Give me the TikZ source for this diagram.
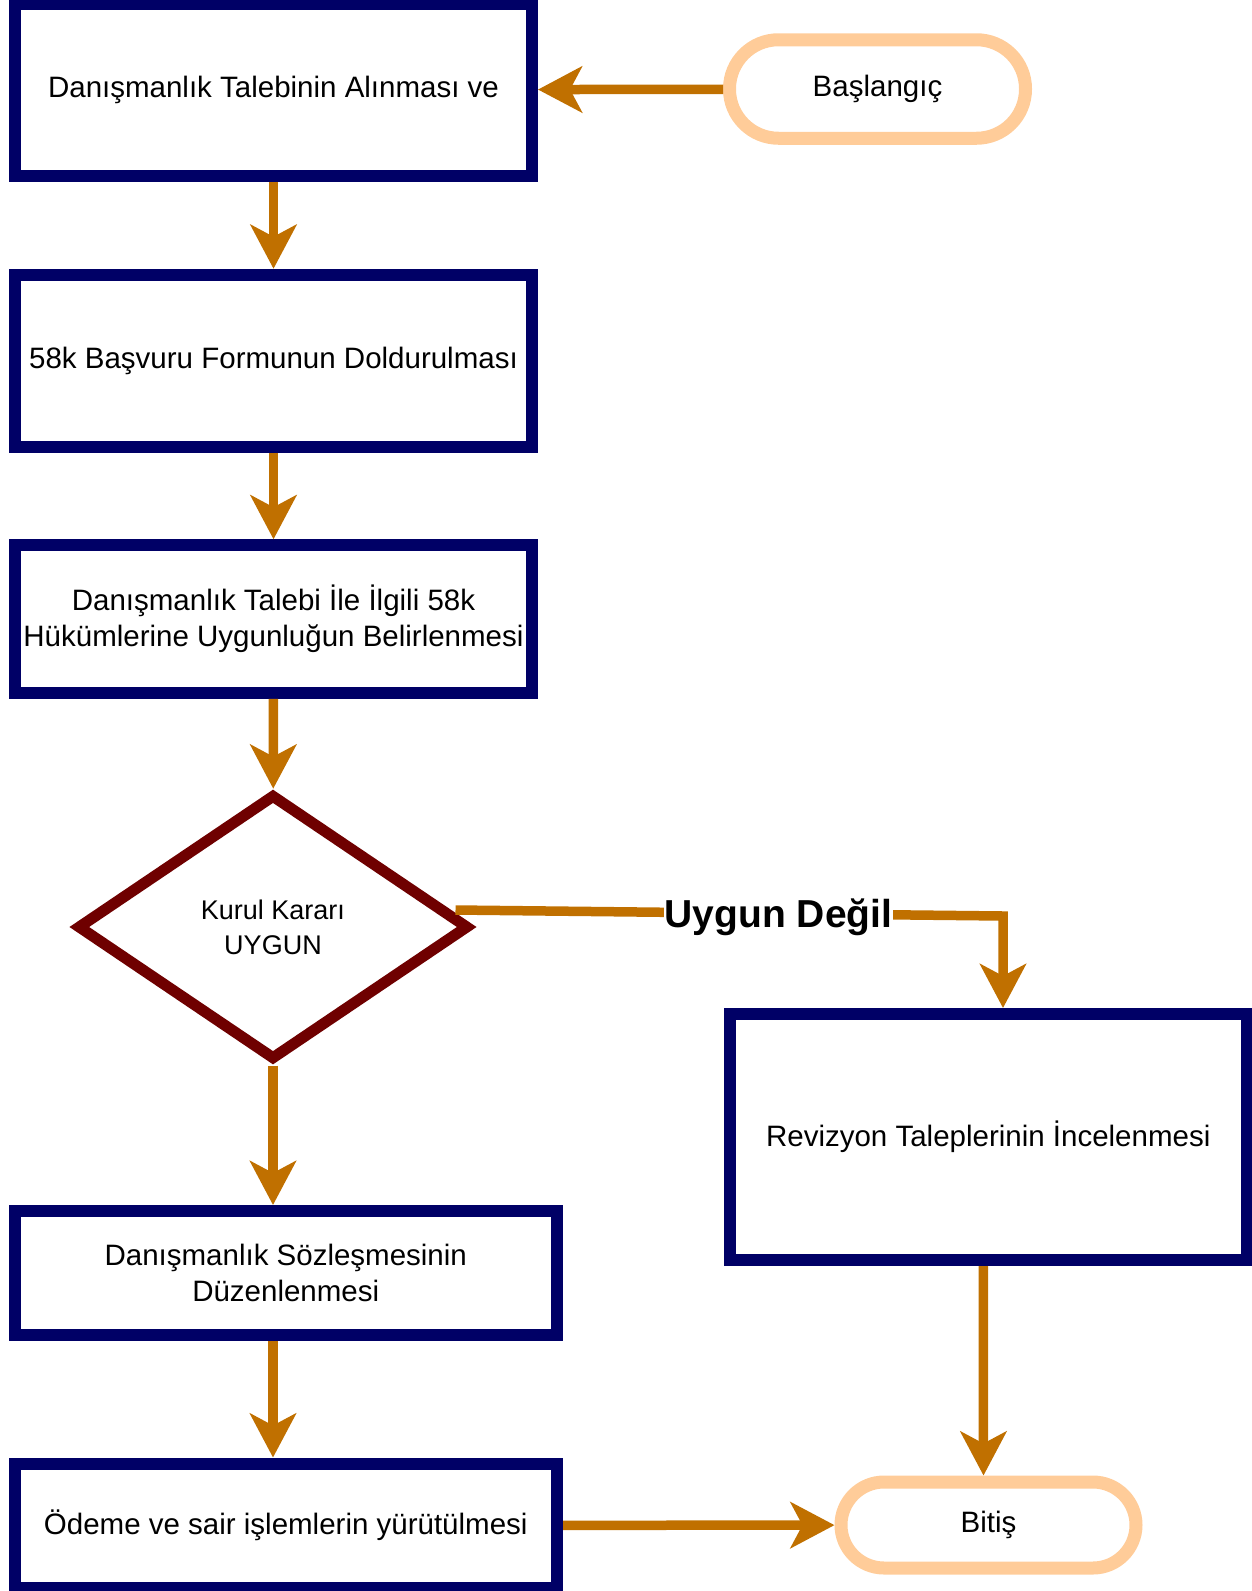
\documentclass[tikz,border=0pt]{standalone}
\usepackage{fontspec}
\setmainfont{Liberation Sans}
\usetikzlibrary{shapes.geometric,arrows.meta}
\definecolor{kutucol}{HTML}{000066}
\definecolor{okcol}{HTML}{C07000}
\definecolor{kararcol}{HTML}{6F0000}
\definecolor{uccol}{HTML}{FFCC99}

\begin{document}
\begin{tikzpicture}[x=1pt,y=-1pt,
kutu/.style={draw=kutucol, line width=12pt, fill=white, inner sep=0pt, align=center,
  font=\fontsize{29.5}{36.5}\selectfont},
uc/.style={draw=uccol, line width=13pt, fill=white, inner sep=0pt, align=center,
  font=\fontsize{29.5}{34}\selectfont},
karar/.style={diamond, draw=kararcol, line width=11pt, fill=white, inner sep=0pt, align=center,
  font=\fontsize{27}{35}\selectfont},
ok/.style={draw=okcol, line width=9.5pt, -{Stealth[length=44pt,width=46pt,inset=12pt]}},
etiket/.style={fill=white, inner sep=1pt, font=\bfseries\fontsize{39}{44}\selectfont}
]
\useasboundingbox (0,0) rectangle (1252,1591);

\node[kutu, minimum width=517pt, minimum height=172.5pt](talep) at(273.5,90) {Danışmanlık Talebinin Alınması ve};
\node[kutu, minimum width=517pt, minimum height=172.5pt](form) at(273.5,361) {58k Başvuru Formunun Doldurulması};
\node[kutu, minimum width=517pt, minimum height=147.5pt](uygunluk) at(273.5,619) {Danışmanlık Talebi İle İlgili 58k\\Hükümlerine Uygunluğun Belirlenmesi};
\node[karar, minimum width=392pt, minimum height=266pt](kurul) at(273,927) {Kurul Kararı\\UYGUN};
\node[kutu, minimum width=542.5pt, minimum height=124pt](sozlesme) at(285.75,1273) {Danışmanlık Sözleşmesinin\\Düzenlenmesi};
\node[kutu, minimum width=542.5pt, minimum height=124pt](odeme) at(285.75,1525.5) {Ödeme ve sair işlemlerin yürütülmesi};
\node[kutu, minimum width=517.5pt, minimum height=246pt](revizyon) at(988.25,1137) {Revizyon Taleplerinin İncelenmesi};

\node[uc, rounded corners=49pt, minimum width=296pt, minimum height=98.5pt](basla) at(877.5,89) {Başlangıç};
\node[uc, rounded corners=43pt, minimum width=295pt, minimum height=86pt](bitis) at(988.5,1525) {Bitiş};

\coordinate(kout) at([xshift=-19pt,yshift=17pt]kurul.east);
\coordinate(kose) at(1003,916);

\draw[ok] (basla) -- (talep);
\draw[ok] (talep) -- (form);
\draw[ok] (form) -- (uygunluk);
\draw[ok] (uygunluk) -- (kurul);
\draw[ok] (kurul.south) -- (kurul.south |- sozlesme.north);
\draw[ok] (kurul.south |- sozlesme.south) -- (kurul.south |- odeme.north);
\draw[ok] (odeme) -- (bitis);
\draw[ok] ([xshift=-5pt]revizyon.south) -- ([xshift=-5pt]bitis.north);
\draw[ok] (kout) -- node[etiket, pos=0.59, yshift=-4pt]{Uygun Değil} (kose) -- (kose |- revizyon.north);

\end{tikzpicture}
\end{document}
